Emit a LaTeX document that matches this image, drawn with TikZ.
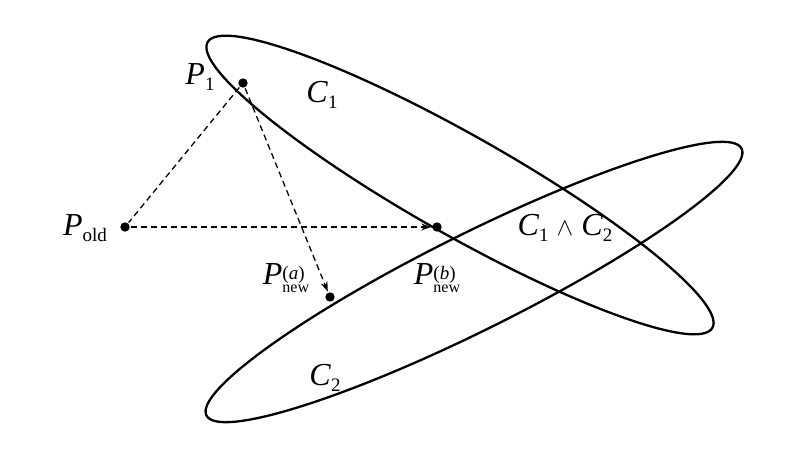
\documentclass[tikz,border=0pt]{standalone}
\usetikzlibrary{arrows.meta}
\usepackage{fontspec}
\setmainfont{Liberation Serif}
\newcommand{\mylab}[3]{\textit{#1}\raisebox{-0.25em}{\fontsize{17}{18}\selectfont #2}}
\begin{document}
\begin{tikzpicture}[x=1pt,y=1pt,line width=2.3pt,
 pt/.style={circle,fill,inner sep=3.3pt},
 lab/.style={font=\fontsize{32}{34}\selectfont,inner sep=0pt},
 dsh/.style={dashed,line width=1.3pt,dash pattern=on 6pt off 4pt}]
\useasboundingbox (0,0) rectangle (800,450);
\draw[rotate around={-29.5:(460,265)}] (460,265) ellipse (290 and 50);
\draw[rotate around={26.5:(474,168)}] (474,168) ellipse (299 and 48);
\node[pt] (p1) at (243,367) {};
\node[pt] (po) at (125,223) {};
\node[pt] (pb) at (437,223) {};
\node[pt] (pa) at (330,153) {};
\draw[dsh] (p1) -- (po);
\draw[dsh,-{Stealth[length=10pt,width=7pt]}] (po) -- (pb);
\draw[dsh,-{Stealth[length=10pt,width=7pt]}] (p1) -- (pa);
\node[lab] (l1) at (200,373) {\textit{P}\raisebox{-0.2em}{\fontsize{19}{20}\selectfont 1}};
\node[lab] (lo) at (85,222) {\textit{P}\raisebox{-0.2em}{\fontsize{19}{20}\selectfont old}};
\node[lab] (la) at (286,172) {\textit{P}\raisebox{-0.25em}{\shortstack[l]{\fontsize{19}{20}\selectfont(\textit{a})\\[-2pt]\fontsize{16}{17}\selectfont new}}};
\node[lab] (lb) at (437,172) {\textit{P}\raisebox{-0.25em}{\shortstack[l]{\fontsize{19}{20}\selectfont(\textit{b})\\[-2pt]\fontsize{16}{17}\selectfont new}}};
\node[lab] (c1) at (322,355) {\textit{C}\raisebox{-0.2em}{\fontsize{19}{20}\selectfont 1}};
\node[lab] (c2) at (325,72) {\textit{C}\raisebox{-0.2em}{\fontsize{19}{20}\selectfont 2}};
\node[lab] (c12) at (565,222) {\textit{C}\raisebox{-0.2em}{\fontsize{19}{20}\selectfont 1} $\wedge$ \textit{C}\raisebox{-0.2em}{\fontsize{19}{20}\selectfont 2}};
\end{tikzpicture}
\end{document}
